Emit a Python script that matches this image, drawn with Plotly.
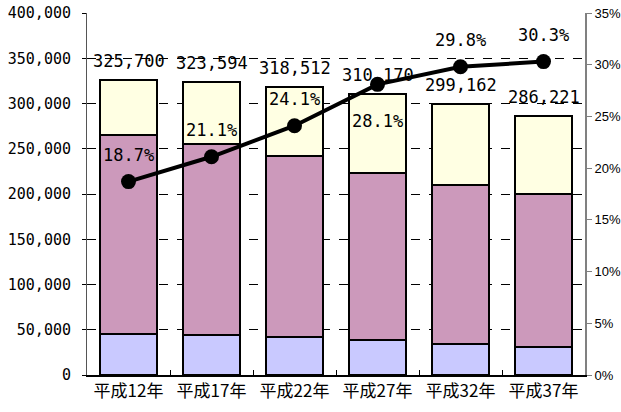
import plotly.graph_objects as go

categories = ["平成12年", "平成17年", "平成22年", "平成27年", "平成32年", "平成37年"]
young = [45000, 44200, 42300, 38700, 34200, 31300]
working = [219800, 211100, 199400, 184300, 175800, 168200]
elderly = [60900, 68300, 76800, 87200, 89200, 86700]
totals = [325700, 323594, 318512, 310170, 299162, 286221]
elderly_pct = [18.7, 21.1, 24.1, 28.1, 29.8, 30.3]
pct_label_shift = [27, 27, 27, -37, 27, 27]

MONO = "DejaVu Sans Mono"
SANS = "Liberation Sans, Arial"
CJK = "Noto Sans CJK JP"

fig = go.Figure()
bar_line = dict(color="black", width=2)
fig.add_trace(go.Bar(x=categories, y=young, marker=dict(color="#C9C9FF", line=bar_line), width=0.675))
fig.add_trace(go.Bar(x=categories, y=working, marker=dict(color="#CC99BB", line=bar_line), width=0.675))
fig.add_trace(go.Bar(x=categories, y=elderly, marker=dict(color="#FFFFE3", line=bar_line), width=0.675))
fig.add_trace(go.Scatter(x=categories, y=elderly_pct, yaxis="y2", mode="lines+markers",
                         line=dict(color="black", width=4),
                         marker=dict(color="black", size=15), cliponaxis=False))

annotations = []
for c, t in zip(categories, totals):
    annotations.append(dict(x=c, y=t, xref="x", yref="y", text=f"{t:,}", showarrow=False,
                            yshift=19, font=dict(family=MONO, size=17, color="black")))
for c, p, s in zip(categories, elderly_pct, pct_label_shift):
    annotations.append(dict(x=c, y=p, xref="x", yref="y2", text=f"{p:.1f}%", showarrow=False,
                            yshift=s, font=dict(family=MONO, size=17, color="black")))

fig.update_layout(
    width=621, height=412,
    margin=dict(l=87, r=36, t=13, b=37, autoexpand=False),
    paper_bgcolor="white", plot_bgcolor="white",
    barmode="stack", showlegend=False,
    annotations=annotations,
    xaxis=dict(showline=True, linecolor="black", linewidth=2, ticks="inside", tickson="boundaries",
               ticklen=5, tickcolor="black", tickfont=dict(family=CJK, size=17, color="black"),
               showgrid=False, automargin=False),
    yaxis=dict(range=[0, 400000], dtick=50000, tickformat=",", showline=True, linecolor="#555555",
               linewidth=1, ticks="outside", ticklen=4, tickcolor="black", ticklabelstandoff=8,
               tickfont=dict(family=MONO, size=15, color="black"), automargin=False,
               showgrid=True, gridcolor="black", gridwidth=1, griddash="dash", zeroline=False),
    yaxis2=dict(range=[0, 35], dtick=5, ticksuffix="%", overlaying="y", side="right",
                showline=True, linecolor="#808080", linewidth=2, ticks="outside", ticklen=5,
                tickcolor="#808080", ticklabelstandoff=0,
                tickfont=dict(family=SANS, size=13, color="black"),
                showgrid=False, zeroline=False, automargin=False),
)

fig.write_html("out.html", config={"displayModeBar": False},
               post_script="document.body.style.margin='0';")
